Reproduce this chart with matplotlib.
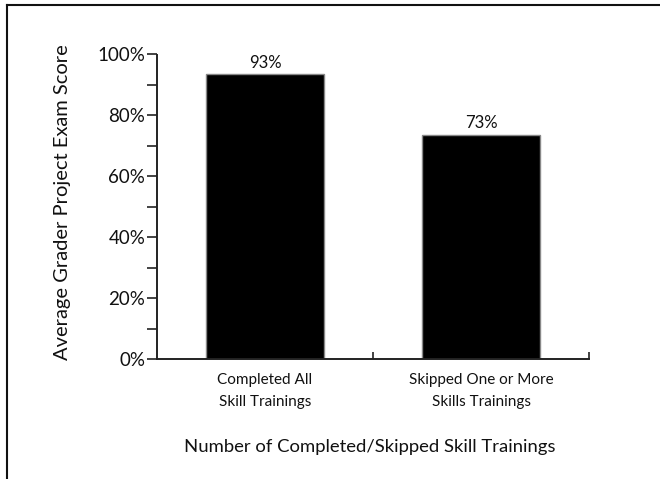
import matplotlib
matplotlib.use("Agg")
import matplotlib.pyplot as plt
from matplotlib.lines import Line2D
from matplotlib.ticker import MultipleLocator, PercentFormatter

categories = ["Completed All\nSkill Trainings", "Skipped One or More\nSkills Trainings"]
scores = [0.936, 0.736]
value_labels = ["93%", "73%"]
x_title = "Number of Completed/Skipped Skill Trainings"
y_title = "Average Grader Project Exam Score"

plt.rcParams['font.family'] = ['Lato', 'DejaVu Sans']
W, H = 660, 479
fig = plt.figure(figsize=(W / 100, H / 100), dpi=100)
ax = fig.add_axes([157 / W, 1 - 359 / H, (589 - 157) / W, (359 - 54.5) / H])

pos = list(range(len(categories)))
bars = ax.bar(pos, scores, width=0.55, color='black', edgecolor='#888888', linewidth=1.0)
for b, lab in zip(bars, value_labels):
    ax.annotate(lab, (b.get_x() + b.get_width() / 2, b.get_height()),
                xytext=(0, 2.5), textcoords='offset points', ha='center', va='bottom',
                fontsize=12, color='#111111')

ax.set_xlim(-0.5, 1.5)
ax.set_ylim(0, 1.0)
for s in ['top', 'right']:
    ax.spines[s].set_visible(False)
for s in ['left', 'bottom']:
    ax.spines[s].set_color('#222222')
    ax.spines[s].set_linewidth(1.4)

ax.yaxis.set_major_locator(MultipleLocator(0.2))
ax.yaxis.set_minor_locator(MultipleLocator(0.1))
ax.yaxis.set_major_formatter(PercentFormatter(1.0, decimals=0))
ax.tick_params(axis='y', which='both', direction='out', length=7.5, width=1.2,
               color='#222222', labelsize=13.5, pad=1, labelcolor='#111111')

ax.set_xticks([0.5, 1.5])
ax.set_xticklabels([])
ax.tick_params(axis='x', which='major', direction='in', length=5, width=1.2, color='#222222')
for p, c in zip(pos, categories):
    ax.text(p, -0.045, c, transform=ax.get_xaxis_transform(), ha='center', va='top',
            fontsize=11, color='#111111', linespacing=1.75)

fig.text(370 / W, 1 - 447 / H, x_title, ha='center', va='center', fontsize=13.3, color='#111111')
fig.text(63 / W, 1 - 202 / H, y_title, ha='center', va='center', rotation=90,
         fontsize=14.5, color='#111111')

fig.add_artist(Line2D([7 / W, 1], [1 - 5 / H, 1 - 5 / H], transform=fig.transFigure,
                      color='#111111', linewidth=1.5))
fig.add_artist(Line2D([7 / W, 7 / W], [1 - 5 / H, 0], transform=fig.transFigure,
                      color='#111111', linewidth=1.5))

fig.savefig("out.png", dpi=100)
